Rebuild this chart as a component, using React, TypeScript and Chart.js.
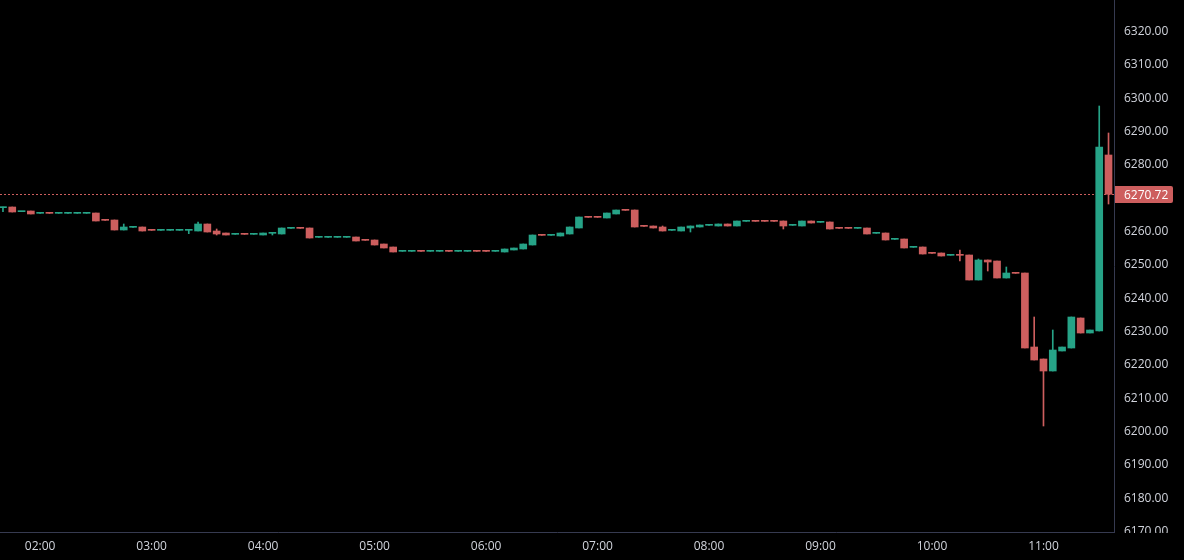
import React, { useEffect, useRef } from 'react';
import { Chart, registerables } from 'chart.js';

Chart.register(...registerables);

// 5-minute candles, 01:40 -> 11:35
const opens = [
  6266.7, 6266.9, 6265.5, 6265.7, 6265.0, 6265.05, 6265.0, 6265.0, 6265.0, 6265.0,
  6265.1, 6262.95, 6263.0, 6260.0, 6260.8, 6260.9, 6259.95, 6259.9, 6259.9, 6259.9,
  6259.9, 6259.7, 6261.8, 6259.7, 6259.1, 6258.7, 6258.75, 6258.7, 6258.5, 6259.0,
  6258.8, 6260.5, 6260.55, 6260.6, 6257.8, 6257.8, 6257.8, 6257.8, 6257.9, 6256.95,
  6257.0, 6255.8, 6254.9, 6253.6, 6253.6, 6253.65, 6253.6, 6253.6, 6253.65, 6253.6,
  6253.6, 6253.65, 6253.65, 6253.6, 6253.4, 6254.0, 6254.3, 6255.5, 6258.45, 6258.4,
  6258.2, 6258.8, 6260.6, 6263.85, 6263.85, 6263.6, 6264.8, 6265.95, 6266.0, 6261.15,
  6261.2, 6260.9, 6259.9, 6259.7, 6260.6, 6260.9, 6261.4, 6261.2, 6261.8, 6261.2,
  6262.6, 6262.65, 6262.65, 6262.65, 6262.7, 6261.4, 6261.2, 6262.7, 6262.3, 6262.4,
  6260.55, 6260.55, 6260.5, 6260.6, 6259.0, 6259.1, 6257.2, 6257.3, 6254.8, 6254.9,
  6253.05, 6253.1, 6252.4, 6252.45, 6252.5, 6245.0, 6251.0, 6250.7, 6245.6, 6247.05,
  6247.1, 6224.9, 6221.3, 6217.7, 6223.7, 6224.6, 6233.6, 6229.1, 6229.7, 6282.5,
];

const closes = [
  6266.9, 6265.4, 6265.6, 6264.8, 6265.0, 6265.0, 6265.0, 6265.0, 6265.0, 6265.0,
  6262.7, 6262.9, 6260.0, 6260.9, 6260.8, 6259.7, 6259.9, 6259.9, 6259.9, 6259.9,
  6259.9, 6261.8, 6259.4, 6258.8, 6258.5, 6258.7, 6258.7, 6258.7, 6259.1, 6259.0,
  6260.6, 6260.5, 6260.5, 6257.6, 6257.8, 6257.8, 6257.8, 6257.8, 6256.7, 6256.9,
  6255.5, 6254.6, 6253.4, 6253.6, 6253.6, 6253.6, 6253.6, 6253.6, 6253.6, 6253.6,
  6253.6, 6253.6, 6253.6, 6253.6, 6254.3, 6254.6, 6255.8, 6258.5, 6258.4, 6258.4,
  6259.1, 6260.9, 6263.9, 6263.8, 6263.8, 6265.1, 6266.0, 6265.9, 6260.9, 6261.1,
  6260.6, 6259.7, 6259.9, 6260.9, 6261.2, 6261.5, 6261.4, 6261.8, 6261.2, 6262.7,
  6262.6, 6262.6, 6262.6, 6262.6, 6261.2, 6261.4, 6262.7, 6262.1, 6262.3, 6260.3,
  6260.5, 6260.5, 6260.5, 6258.8, 6259.0, 6257.0, 6257.2, 6254.6, 6254.8, 6252.8,
  6253.0, 6252.2, 6252.4, 6252.4, 6245.0, 6251.0, 6250.4, 6245.6, 6247.1, 6247.0,
  6224.6, 6221.0, 6217.7, 6224.0, 6224.9, 6233.9, 6229.1, 6230.0, 6284.9, 6270.72,
];

const highs = [
  6266.9, 6266.9, 6265.6, 6265.7, 6265.0, 6265.05, 6265.0, 6265.0, 6265.0, 6265.0,
  6265.1, 6262.95, 6263.0, 6261.8, 6260.8, 6260.9, 6259.95, 6259.9, 6259.9, 6259.9,
  6259.9, 6262.4, 6261.8, 6260.3, 6259.1, 6258.7, 6258.75, 6258.7, 6259.1, 6259.0,
  6260.6, 6260.5, 6260.55, 6260.6, 6257.8, 6257.8, 6257.8, 6257.8, 6257.9, 6256.95,
  6257.0, 6255.8, 6254.9, 6253.6, 6253.6, 6253.65, 6253.6, 6253.6, 6253.65, 6253.6,
  6253.6, 6253.65, 6253.65, 6253.6, 6254.3, 6254.6, 6255.8, 6258.5, 6258.45, 6258.4,
  6259.1, 6260.9, 6263.9, 6263.85, 6263.85, 6265.1, 6266.0, 6265.95, 6266.0, 6261.15,
  6261.2, 6261.2, 6259.9, 6260.9, 6261.2, 6261.5, 6261.4, 6261.8, 6261.8, 6262.7,
  6262.6, 6262.65, 6262.65, 6262.65, 6262.7, 6261.4, 6262.7, 6262.7, 6262.3, 6262.4,
  6260.55, 6260.55, 6260.5, 6260.6, 6259.0, 6259.1, 6257.2, 6257.3, 6254.8, 6254.9,
  6253.05, 6253.1, 6252.4, 6254.0, 6252.5, 6251.3, 6251.0, 6250.7, 6248.9, 6247.05,
  6247.1, 6233.9, 6221.3, 6230.0, 6224.9, 6233.9, 6233.6, 6230.0, 6297.2, 6289.1,
];

const lows = [
  6265.5, 6265.4, 6265.5, 6264.8, 6265.0, 6265.0, 6265.0, 6265.0, 6265.0, 6265.0,
  6262.7, 6262.9, 6260.0, 6260.0, 6260.8, 6259.7, 6259.9, 6259.9, 6259.9, 6259.9,
  6258.9, 6259.7, 6259.4, 6258.5, 6258.5, 6258.7, 6258.7, 6258.7, 6258.5, 6258.5,
  6258.8, 6260.5, 6260.5, 6257.6, 6257.8, 6257.8, 6257.8, 6257.8, 6256.7, 6256.9,
  6255.5, 6254.6, 6253.4, 6253.6, 6253.6, 6253.6, 6253.6, 6253.6, 6253.6, 6253.6,
  6253.6, 6253.6, 6253.6, 6253.6, 6253.4, 6254.0, 6254.3, 6255.5, 6258.4, 6258.4,
  6258.2, 6258.8, 6260.6, 6263.8, 6263.8, 6263.6, 6264.8, 6265.9, 6260.9, 6261.1,
  6260.6, 6259.7, 6259.9, 6259.7, 6259.4, 6260.9, 6261.4, 6261.2, 6261.2, 6261.2,
  6262.6, 6262.6, 6262.6, 6262.6, 6260.3, 6261.4, 6261.2, 6262.1, 6262.3, 6260.3,
  6260.5, 6260.5, 6260.5, 6258.8, 6259.0, 6257.0, 6257.2, 6254.6, 6254.8, 6252.8,
  6253.0, 6252.2, 6252.4, 6250.7, 6245.0, 6245.0, 6247.7, 6245.6, 6245.6, 6247.0,
  6224.6, 6221.0, 6201.2, 6217.7, 6223.7, 6224.6, 6229.1, 6229.1, 6229.7, 6267.8,
];

const hourLabels = ['02:00', '03:00', '04:00', '05:00', '06:00', '07:00', '08:00', '09:00', '10:00', '11:00'];
const hourTickIndex = [4, 16, 28, 40, 52, 64, 76, 88, 100, 112];

const UP = '#26a387';
const DOWN = '#cd5e5e';
const AXIS = '#363a50';
const TEXT = '#d1d4dc';
const FONT = { family: '"Open Sans", Roboto, sans-serif', size: 12 };

export default function App() {
  const ref = useRef<HTMLCanvasElement>(null);

  useEffect(() => {
    document.body.style.margin = '0';
    document.body.style.background = '#000';
    const canvas = ref.current;
    if (!canvas) return;

    const idx = opens.map((_, i) => i);
    const colors = idx.map((i) => (closes[i] >= opens[i] ? UP : DOWN));
    const lastClose = closes[closes.length - 1];

    const priceLine = {
      id: 'priceLine',
      beforeDatasetsDraw(chart: any) {
        const { ctx, chartArea, scales } = chart;
        const y = Math.round(scales.y.getPixelForValue(lastClose)) + 0.5;
        ctx.save();
        ctx.strokeStyle = DOWN;
        ctx.lineWidth = 1;
        ctx.setLineDash([2, 2]);
        ctx.beginPath();
        ctx.moveTo(chartArea.left, y);
        ctx.lineTo(chartArea.right, y);
        ctx.stroke();
        ctx.restore();
      },
      afterDraw(chart: any) {
        const { ctx, chartArea, scales } = chart;
        ctx.save();
        ctx.fillStyle = '#000';
        ctx.fillRect(chartArea.right + 1, chartArea.bottom + 1, chart.width - chartArea.right, chart.height - chartArea.bottom);
        const y = scales.y.getPixelForValue(lastClose);
        const h = 17;
        const x0 = chartArea.right + 1;
        ctx.fillStyle = DOWN;
        ctx.beginPath();
        (ctx as any).roundRect(x0, Math.round(y - h / 2), 58, h, [0, 2, 2, 0]);
        ctx.fill();
        ctx.fillStyle = '#ffffff';
        ctx.font = `12px ${FONT.family}`;
        ctx.textBaseline = 'middle';
        ctx.textAlign = 'left';
        ctx.fillText(lastClose.toFixed(2), chartArea.right + 10, y + 1);
        ctx.restore();
      },
    };

    const chart = new Chart(canvas, {
      type: 'bar',
      data: {
        datasets: [
          {
            label: 'wicks',
            data: idx.map((i) => ({ x: i, y: [lows[i], highs[i]] })) as any,
            backgroundColor: colors,
            borderWidth: 0,
            barThickness: 1,
            grouped: false,
            order: 2,
          } as any,
          {
            label: 'bodies',
            data: idx.map((i) => ({ x: i, y: [opens[i], closes[i]] })) as any,
            backgroundColor: colors,
            borderWidth: 0,
            barThickness: 7,
            minBarLength: 1,
            grouped: false,
            order: 1,
          } as any,
        ],
      },
      options: {
        animation: false,
        responsive: false,
        maintainAspectRatio: false,
        layout: { padding: 0 },
        plugins: { legend: { display: false }, tooltip: { enabled: false } },
        scales: {
          x: {
            type: 'linear',
            min: -0.32,
            max: 119.59,
            offset: false,
            grid: { display: false, drawTicks: false },
            border: { display: true, color: AXIS },
            ticks: {
              color: TEXT,
              font: FONT,
              padding: 7,
              autoSkip: false,
              maxRotation: 0,
              callback: (v: any) => {
                const k = hourTickIndex.indexOf(Number(v));
                return k >= 0 ? hourLabels[k] : '';
              },
            },
            afterBuildTicks: (s: any) => {
              s.ticks = hourTickIndex.map((v) => ({ value: v }));
            },
            afterFit: (s: any) => {
              s.height = 28;
              s.paddingLeft = 0;
              s.paddingRight = 0;
            },
          },
          y: {
            type: 'linear',
            position: 'right',
            min: 6169.4,
            max: 6329,
            grid: { display: false, drawTicks: false },
            border: { display: true, color: AXIS },
            ticks: {
              color: TEXT,
              font: FONT,
              padding: 10,
              labelOffset: 1.5,
              stepSize: 10,
              includeBounds: false,
              callback: (v: any) => Number(v).toFixed(2),
            },
            afterFit: (s: any) => {
              s.width = 70;
              s.paddingTop = 0;
              s.paddingBottom = 0;
            },
          },
        },
      } as any,
      plugins: [priceLine],
    });

    return () => chart.destroy();
  }, []);

  return (
    <div style={{ position: 'absolute', left: 0, top: 0, width: 1184, height: 560, background: '#000' }}>
      <canvas ref={ref} width={1184} height={560} style={{ display: 'block', width: 1184, height: 560 }} />
    </div>
  );
}
